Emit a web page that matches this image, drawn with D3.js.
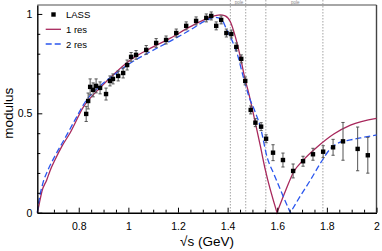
<!DOCTYPE html>
<html>
<head>
<meta charset="utf-8">
<script src="https://cdn.jsdelivr.net/npm/d3@7"></script>
<style>
  body { margin: 0; background: #fff; }
  svg { display: block; font-family: "Liberation Sans", Arial, sans-serif; }
</style>
</head>
<body>
<div id="figure"></div>
<script>
// LASS data points
var lassMass = [0.830, 0.838, 0.846, 0.858, 0.870, 0.886, 0.910, 0.926, 0.938, 0.959,
    0.979, 0.995, 1.011, 1.031, 1.072, 1.112, 1.152, 1.193, 1.233, 1.273,
    1.314, 1.334, 1.354, 1.374, 1.395, 1.415, 1.435, 1.455, 1.471, 1.493,
    1.512, 1.535, 1.555, 1.583, 1.623, 1.664, 1.704, 1.744, 1.785, 1.825,
    1.865, 1.924, 1.965];
var lassMod = [0.497, 0.562, 0.633, 0.618, 0.638, 0.628, 0.597, 0.663, 0.673, 0.688,
    0.703, 0.743, 0.784, 0.794, 0.819, 0.854, 0.869, 0.904, 0.940, 0.965,
    0.980, 0.990, 0.940, 0.970, 0.904, 0.899, 0.834, 0.774, 0.663, 0.517,
    0.453, 0.433, 0.372, 0.302, 0.265, 0.210, 0.259, 0.294, 0.307, 0.329,
    0.359, 0.321, 0.289];
var lassErr = [0.038, 0.040, 0.040, 0.035, 0.035, 0.030, 0.030, 0.025, 0.025, 0.025,
    0.025, 0.025, 0.022, 0.022, 0.022, 0.022, 0.020, 0.020, 0.020, 0.020,
    0.020, 0.020, 0.020, 0.020, 0.020, 0.020, 0.020, 0.020, 0.020, 0.020,
    0.020, 0.020, 0.020, 0.040, 0.035, 0.035, 0.025, 0.030, 0.030, 0.040,
    0.095, 0.110, 0.090];

// fit with one resonance
var res1Mass = [0.633, 0.637, 0.644, 0.652, 0.671, 0.684, 0.704, 0.733, 0.765, 0.819,
    0.886, 0.947, 1.008, 1.088, 1.169, 1.250, 1.329, 1.370, 1.390, 1.411,
    1.431, 1.451, 1.471, 1.484, 1.503, 1.531, 1.552, 1.599, 1.633, 1.666,
    1.705, 1.761, 1.828, 1.895, 2.0];
var res1Mod = [0, 0.022, 0.064, 0.109, 0.165, 0.210, 0.265, 0.336, 0.401, 0.532,
    0.628, 0.703, 0.768, 0.827, 0.878, 0.936, 0.983, 0.995, 0.990, 0.961,
    0.886, 0.785, 0.668, 0.607, 0.502, 0.341, 0.215, 0, 0.109, 0.205,
    0.265, 0.331, 0.396, 0.441, 0.475];

// fit with two resonances
var res2Mass = [0.633, 0.638, 0.644, 0.657, 0.676, 0.704, 0.745, 0.785, 0.826, 0.886,
    0.947, 1.007, 1.087, 1.167, 1.249, 1.310, 1.350, 1.374, 1.397, 1.417,
    1.438, 1.463, 1.484, 1.511, 1.532, 1.559, 1.588, 1.620, 1.653, 1.693,
    1.734, 1.774, 1.815, 1.847, 1.895, 1.943, 2.0];
var res2Mod = [0, 0.049, 0.089, 0.155, 0.215, 0.285, 0.376, 0.467, 0.557, 0.638,
    0.698, 0.752, 0.809, 0.862, 0.919, 0.965, 0.983, 0.975, 0.919, 0.869,
    0.802, 0.684, 0.592, 0.507, 0.431, 0.280, 0.190, 0.094, 0, 0.084,
    0.165, 0.249, 0.323, 0.351, 0.366, 0.378, 0.391];

var thresholds = [1.411, 1.473, 1.554, 1.784];
var xTicks = [0.8, 1.0, 1.2, 1.4, 1.6, 1.8, 2.0];
var xMinor = [0.7, 0.75, 0.85, 0.9, 0.95, 1.05, 1.1, 1.15, 1.25, 1.3, 1.35, 1.45, 1.5,
    1.55, 1.65, 1.7, 1.75, 1.85, 1.9, 1.95];
var yTicks = [0, 0.5, 1];
var yMinor = [0.1, 0.2, 0.3, 0.4, 0.6, 0.7, 0.8, 0.9];

var W = 382, H = 251;
var redColor = "#a8285c";
var blueColor = "#2a56ee";

var svg = d3.select("#figure")
    .append("svg")
    .attr("width", W)
    .attr("height", H);

var x = d3.scaleLinear().domain([0.633, 2.0]).range([37.3, 376.5]);
var y = d3.scaleLinear().domain([0, 1.045]).range([212.7, 5]);

// frame: top and right
svg.append("line")
    .attr("x1", x(0.633)).attr("x2", x(2.0))
    .attr("y1", y(1.045)).attr("y2", y(1.045))
    .attr("stroke", "#888").attr("stroke-width", 1.4);
svg.append("line")
    .attr("x1", x(2.0)).attr("x2", x(2.0))
    .attr("y1", y(1.045)).attr("y2", y(0))
    .attr("stroke", "#444").attr("stroke-width", 1.4);

// threshold lines
svg.selectAll(".thr")
    .data(thresholds)
    .join("line")
    .attr("class", "thr")
    .attr("x1", d => x(d)).attr("x2", d => x(d))
    .attr("y1", 0).attr("y2", y(0))
    .attr("stroke", "#999")
    .attr("stroke-width", 0.9)
    .attr("stroke-dasharray", "1.5,1.5");

svg.selectAll(".thrlab")
    .data([[thresholds[0], thresholds[1]], [thresholds[2], thresholds[3]]])
    .join("text")
    .attr("class", "thrlab")
    .attr("x", d => (x(d[0]) + x(d[1])) / 2 + 1)
    .attr("y", 4)
    .attr("text-anchor", "middle")
    .attr("font-size", 4.5)
    .attr("fill", "#888")
    .text("pole");

// curves, split at the zero so the dip stays sharp
function curvePath(xs, ys) {
    var pts = xs.map((d, i) => [d, ys[i]]);
    var k = 1;
    for (var i = 1; i < pts.length - 1; i++) { if (pts[i][1] === 0) k = i; }
    var line = d3.line()
        .x(d => x(d[0]))
        .y(d => y(d[1]))
        .curve(d3.curveMonotoneX);
    return line(pts.slice(0, k + 1)) + line(pts.slice(k)).replace(/^M/, "L");
}

svg.append("path")
    .attr("d", curvePath(res1Mass, res1Mod))
    .attr("fill", "none")
    .attr("stroke", redColor)
    .attr("stroke-width", 1.3);

svg.append("path")
    .attr("d", curvePath(res2Mass, res2Mod))
    .attr("fill", "none")
    .attr("stroke", blueColor)
    .attr("stroke-width", 1.3)
    .attr("stroke-dasharray", "6,3");

// data with error bars
var pts = lassMass.map((d, i) => ({ m: d, v: lassMod[i], e: lassErr[i] }));
var g = svg.append("g");
g.selectAll(".eb")
    .data(pts)
    .join("line")
    .attr("class", "eb")
    .attr("x1", d => x(d.m)).attr("x2", d => x(d.m))
    .attr("y1", d => y(d.v - d.e)).attr("y2", d => y(d.v + d.e))
    .attr("stroke", "#555").attr("stroke-width", 1);
g.selectAll(".cap1")
    .data(pts)
    .join("line")
    .attr("class", "cap1")
    .attr("x1", d => x(d.m) - 1.6).attr("x2", d => x(d.m) + 1.6)
    .attr("y1", d => y(d.v + d.e)).attr("y2", d => y(d.v + d.e))
    .attr("stroke", "#555").attr("stroke-width", 1);
g.selectAll(".cap2")
    .data(pts)
    .join("line")
    .attr("class", "cap2")
    .attr("x1", d => x(d.m) - 1.6).attr("x2", d => x(d.m) + 1.6)
    .attr("y1", d => y(d.v - d.e)).attr("y2", d => y(d.v - d.e))
    .attr("stroke", "#555").attr("stroke-width", 1);
g.selectAll("rect")
    .data(pts)
    .join("rect")
    .attr("x", d => x(d.m) - 2.2)
    .attr("y", d => y(d.v) - 2.2)
    .attr("width", 4.4)
    .attr("height", 4.4)
    .attr("fill", "#000");

// axes, ticks pointing inward
var xAxis = svg.append("g")
    .attr("transform", `translate(0,${y(0)})`)
    .call(d3.axisBottom(x).tickValues(xTicks).tickSizeInner(-5).tickSizeOuter(0)
        .tickPadding(10).tickFormat(d3.format("~g")));
svg.append("g")
    .attr("transform", `translate(0,${y(0)})`)
    .call(d3.axisBottom(x).tickValues(xMinor).tickSizeInner(-3).tickSizeOuter(0).tickFormat(""))
    .select(".domain").remove();

var yAxis = svg.append("g")
    .attr("transform", `translate(${x(0.633)},0)`)
    .call(d3.axisLeft(y).tickValues(yTicks).tickSizeInner(-5).tickSizeOuter(0)
        .tickPadding(5).tickFormat(d3.format("~g")));
svg.append("g")
    .attr("transform", `translate(${x(0.633)},0)`)
    .call(d3.axisLeft(y).tickValues(yMinor).tickSizeInner(-3).tickSizeOuter(0).tickFormat(""))
    .select(".domain").remove();

svg.selectAll(".domain").attr("stroke", "#000").attr("stroke-width", 1.4);
svg.selectAll(".tick line").attr("stroke", "#000").attr("stroke-width", 1);
svg.selectAll(".tick text")
    .attr("font-size", 10.5)
    .attr("font-family", "Liberation Sans, Arial, sans-serif")
    .attr("fill", "#000");

// axis titles
svg.append("text")
    .attr("x", 207)
    .attr("y", 246)
    .attr("text-anchor", "middle")
    .attr("font-size", 13.5)
    .text("√s (GeV)");

svg.append("text")
    .attr("transform", `translate(13,${y(0.5)}) rotate(-90)`)
    .attr("text-anchor", "middle")
    .attr("font-size", 13.5)
    .text("modulus");

// legend
var leg = svg.append("g").attr("font-size", 9.5);
leg.append("rect")
    .attr("x", 51.3).attr("y", 12.3).attr("width", 4.4).attr("height", 4.4)
    .attr("fill", "#000");
leg.append("text").attr("x", 66).attr("y", 18).text("LASS");
leg.append("line")
    .attr("x1", 45.7).attr("x2", 61).attr("y1", 29.3).attr("y2", 29.3)
    .attr("stroke", redColor).attr("stroke-width", 1.3);
leg.append("text").attr("x", 66).attr("y", 33).text("1 res");
leg.append("line")
    .attr("x1", 45.7).attr("x2", 61).attr("y1", 44).attr("y2", 44)
    .attr("stroke", blueColor).attr("stroke-width", 1.3)
    .attr("stroke-dasharray", "6,3");
leg.append("text").attr("x", 66).attr("y", 47.7).text("2 res");
</script>
</body>
</html>
